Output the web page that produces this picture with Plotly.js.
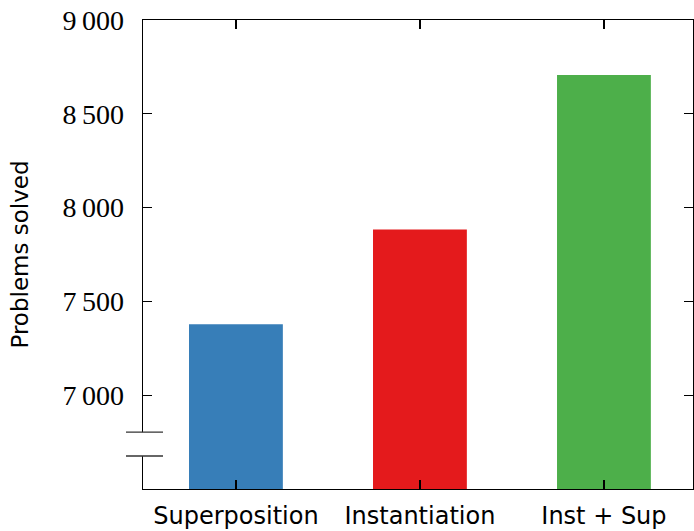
<!DOCTYPE html>
<html><head><meta charset="utf-8">
<script src="https://cdn.plot.ly/plotly-3.0.1.min.js"></script>
<style>html,body{margin:0;padding:0;background:#fff}#c{width:694px;height:531px}</style>
</head><body><div id="c"></div>
<script>
const categories = ["Superposition", "Instantiation", "Inst + Sup"];
const solved = [7378, 7883, 8707];
const barColors = ["#377eb8", "#e41a1c", "#4daf4a"];
const yTickVals = [7000, 7500, 8000, 8500, 9000];
const yTickText = ["7\u2009000", "7\u2009500", "8\u2009000", "8\u2009500", "9\u2009000"];
const yRange = [6500, 9000];
const breakLow = 6676, breakHigh = 6803;

const trace = {
  type: "bar", x: categories, y: solved,
  marker: {color: barColors, line: {width: 0}},
  width: 0.51, hoverinfo: "none"
};
const layout = {
  width: 694, height: 531,
  margin: {l: 143, r: 1, t: 20, b: 42},
  paper_bgcolor: "#fff", plot_bgcolor: "#fff",
  showlegend: false,
  xaxis: {
    range: [-0.505, 2.484], showgrid: false, zeroline: false,
    showline: true, mirror: "ticks", linecolor: "#000", linewidth: 1.3,
    ticks: "inside", ticklen: 9, tickcolor: "#000", tickwidth: 1.3,
    tickfont: {family: "DejaVu Sans", size: 24, color: "#000"},
    ticklabelstandoff: 5
  },
  yaxis: {
    range: yRange, showgrid: false, zeroline: false,
    showline: true, mirror: "ticks", linecolor: "#000", linewidth: 1.3,
    ticks: "inside", ticklen: 9, tickcolor: "#000", tickwidth: 1.3,
    tickvals: yTickVals, ticktext: yTickText,
    tickfont: {family: "Liberation Serif", size: 28, color: "#000"},
    ticklabelstandoff: 12,
    title: {text: "Problems solved", font: {family: "DejaVu Sans", size: 23, color: "#000"}, standoff: 27}
  },
  shapes: [
    {type: "rect", layer: "above", xref: "paper", xsizemode: "pixel", xanchor: 0, x0: -4, x1: 4,
     yref: "y", y0: breakLow, y1: breakHigh, fillcolor: "#fff", line: {width: 0}},
    {type: "line", layer: "above", xref: "paper", xsizemode: "pixel", xanchor: 0, x0: -17, x1: 20,
     yref: "y", y0: breakLow, y1: breakLow, line: {color: "#333", width: 1.3}},
    {type: "line", layer: "above", xref: "paper", xsizemode: "pixel", xanchor: 0, x0: -17, x1: 20,
     yref: "y", y0: breakHigh, y1: breakHigh, line: {color: "#333", width: 1.3}}
  ]
};
Plotly.newPlot("c", [trace], layout, {staticPlot: true, displayModeBar: false});
</script></body></html>
